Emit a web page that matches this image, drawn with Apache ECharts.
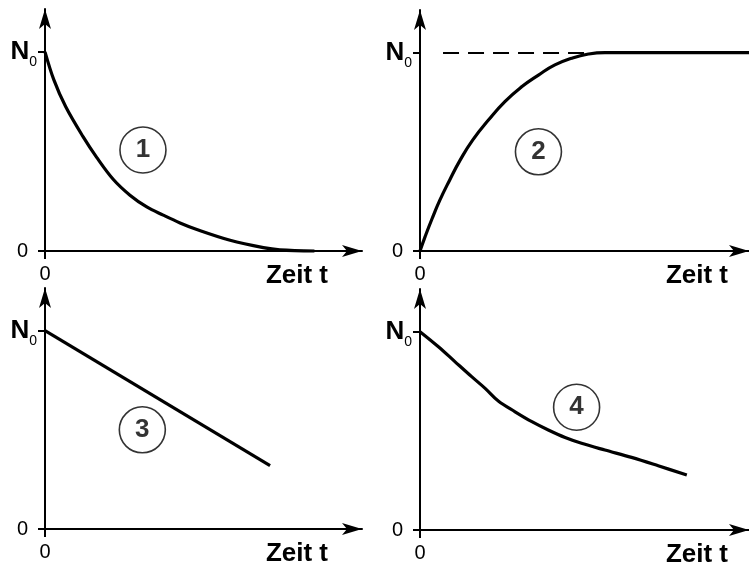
<!DOCTYPE html>
<html>
<head>
<meta charset="utf-8">
<script src="https://cdn.jsdelivr.net/npm/echarts@6/dist/echarts.min.js"></script>
<style>
  html, body { margin: 0; padding: 0; background: #fff; }
  #chart { width: 749px; height: 565px; }
</style>
</head>
<body>
<div id="chart"></div>
<script>
// Zeit t (beliebige Einheiten) und N / N0
const decayT = [0, 0.28, 0.65, 1.20, 1.63, 2.15, 2.68, 3.21, 3.73, 4.26, 4.79, 5.84, 6.89, 7.41, 8.5]
const decayN = [1.0, 0.859, 0.725, 0.574, 0.470, 0.360, 0.280, 0.221, 0.180, 0.141, 0.108, 0.054, 0.017, 0.006, 0]

const growT = [0, 0.15, 0.36, 0.60, 0.90, 1.22, 1.60, 2.08, 2.58, 3.09, 3.60, 4.10, 4.61, 5.12, 5.62, 10]
const growN = [0, 0.07, 0.16, 0.255, 0.357, 0.458, 0.559, 0.660, 0.753, 0.828, 0.887, 0.938, 0.972, 0.993, 1.0, 1.0]

const linearT = [0, 7.10]
const linearN = [1.0, 0.319]

const mixedT = [0, 0.56, 1.06, 1.57, 1.98, 2.38, 2.89, 3.40, 3.90, 4.41, 4.91, 5.62, 6.43, 7.24, 8.11]
const mixedN = [1.0, 0.924, 0.849, 0.773, 0.714, 0.650, 0.596, 0.546, 0.504, 0.466, 0.437, 0.403, 0.366, 0.324, 0.277]

const circleLabels = ['1', '2', '3', '4']
const circlePos = [[3.09, 0.507], [3.60, 0.50], [3.07, 0.50], [4.76, 0.619]]

const yTickValues = [0, 1]
const xTickValues = [0]
const xName = 'Zeit t'

const FONT = 'Liberation Sans, Arial, sans-serif'
const T_MAX = 10
const N_MAX = 1.215

const grids = [
  { left: 45, top: 9, width: 317, height: 242, outerBoundsMode: 'none' },
  { left: 420, top: 10, width: 329, height: 241, outerBoundsMode: 'none' },
  { left: 45, top: 288, width: 317, height: 241, outerBoundsMode: 'none' },
  { left: 420, top: 289, width: 329, height: 241, outerBoundsMode: 'none' }
]
const nameGaps = [-34, -21, -34, -21]

const toPairs = (xs, ys) => xs.map((x, i) => [x, ys[i]])

const makeX = (i) => ({
  type: 'value',
  gridIndex: i,
  min: 0,
  max: T_MAX,
  splitLine: { show: false },
  axisLine: {
    show: true,
    onZero: false,
    symbol: ['none', 'arrow'],
    symbolSize: [9, 20],
    lineStyle: { color: '#000', width: 2 }
  },
  axisTick: { show: true, customValues: xTickValues, length: 8, lineStyle: { color: '#000', width: 2 } },
  axisLabel: {
    customValues: xTickValues,
    margin: 13,
    color: '#000',
    fontFamily: FONT,
    fontSize: 20
  },
  name: xName,
  nameLocation: 'end',
  nameGap: nameGaps[i],
  nameTextStyle: {
    align: 'right',
    verticalAlign: 'top',
    padding: [12, 0, 0, 0],
    color: '#000',
    fontFamily: FONT,
    fontSize: 26,
    fontWeight: 'bold'
  }
})

const makeY = (i) => ({
  type: 'value',
  gridIndex: i,
  min: 0,
  max: N_MAX,
  splitLine: { show: false },
  axisLine: {
    show: true,
    onZero: false,
    symbol: ['none', 'arrow'],
    symbolSize: [9, 20],
    lineStyle: { color: '#000', width: 2 }
  },
  axisTick: { show: true, customValues: yTickValues, length: 7, lineStyle: { color: '#000', width: 2 } },
  axisLabel: {
    customValues: yTickValues,
    margin: 8,
    formatter: (v) => (v === 1 ? '{n|N}{s|0}' : '{z|0}'),
    rich: {
      n: { fontSize: 26, fontFamily: FONT, fontWeight: 'bold', color: '#000', lineHeight: 34, verticalAlign: 'middle' },
      s: { fontSize: 14, fontFamily: FONT, color: '#000', lineHeight: 14, verticalAlign: 'bottom' },
      z: { fontSize: 20, fontFamily: FONT, color: '#000', padding: [0, 9, 0, 0] }
    }
  }
})

const curveStyle = { color: '#000', width: 3.2 }

const curves = [
  { data: toPairs(decayT, decayN), smooth: 0.35 },
  { data: toPairs(growT, growN), smooth: 0.5 },
  { data: toPairs(linearT, linearN), smooth: false },
  { data: toPairs(mixedT, mixedN), smooth: 0.35 }
]

const series = []
curves.forEach((c, i) => {
  const s = {
    type: 'line',
    xAxisIndex: i,
    yAxisIndex: i,
    data: c.data,
    smooth: c.smooth,
    showSymbol: false,
    clip: false,
    lineStyle: curveStyle,
    silent: true
  }
  if (i === 1) {
    s.markLine = {
      silent: true,
      symbol: ['none', 'none'],
      label: { show: false },
      lineStyle: { color: '#000', width: 2, type: [16, 9] },
      data: [[{ coord: [0.7, 1] }, { coord: [5.2, 1] }]]
    }
  }
  series.push(s)
  series.push({
    type: 'scatter',
    xAxisIndex: i,
    yAxisIndex: i,
    data: [circlePos[i]],
    symbol: 'circle',
    symbolSize: 46,
    silent: true,
    itemStyle: { color: '#fff', borderColor: '#000', borderWidth: 1.6 },
    label: {
      show: true,
      position: 'inside',
      formatter: circleLabels[i],
      color: '#000',
      fontFamily: FONT,
      fontSize: 26,
      fontWeight: 'bold'
    }
  })
})

const chart = echarts.init(document.getElementById('chart'))
chart.setOption({
  backgroundColor: '#fff',
  animation: false,
  grid: grids,
  xAxis: grids.map((g, i) => makeX(i)),
  yAxis: grids.map((g, i) => makeY(i)),
  series: series
})
</script>
</body>
</html>
